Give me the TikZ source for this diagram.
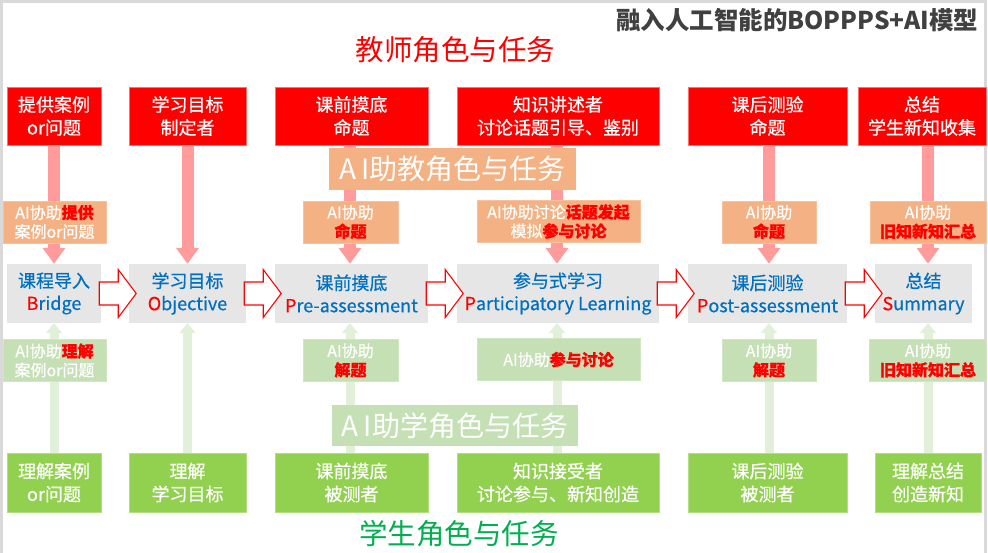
\documentclass[tikz,border=0pt]{standalone}
\usepackage{fontspec}
\setmainfont{Noto Sans CJK SC}
\newfontfamily\boxfont{Noto Sans CJK SC}[FakeBold=0.6]
\usetikzlibrary{arrows.meta,calc}
\definecolor{boxred}{HTML}{FF0000}
\definecolor{boxredline}{HTML}{FF6F6F}
\definecolor{pinkarrow}{HTML}{FF9B9B}
\definecolor{boxorange}{HTML}{F4B183}
\definecolor{boxgray}{HTML}{E7E6E6}
\definecolor{textblue}{HTML}{0070C0}
\definecolor{boxgreen}{HTML}{92D050}
\definecolor{boxlgreen}{HTML}{C5E0B4}
\definecolor{lgarrow}{HTML}{E2F0D9}
\definecolor{titlegreen}{HTML}{00B050}
\definecolor{titlegray}{HTML}{404040}
\definecolor{framegray}{HTML}{D9D9D9}
\newcommand\redhl[1]{{\color{boxred}\bfseries #1}}
\newcommand\redfirst[1]{{\color{boxred}#1}}
\begin{document}
\begin{tikzpicture}[x=1pt,y=-1pt,
  basebox/.style={rectangle, inner sep=0pt, align=center},
  redbox/.style={basebox, fill=boxred, draw=boxredline, line width=0.8pt, text=white, minimum height=58pt, font=\boxfont\fontsize{18}{23}\selectfont},
  graybox/.style={basebox, fill=boxgray, text=textblue, minimum height=59pt, font=\boxfont\fontsize{18}{22.5}\selectfont},
  greenbox/.style={basebox, fill=boxgreen, draw=boxgreen!70!white, line width=0.8pt, text=white, minimum height=59pt, font=\boxfont\fontsize{18}{23}\selectfont},
  orangebox/.style={basebox, fill=boxorange, draw=boxorange!80!white, line width=0.6pt, text=white, minimum height=42pt, font=\boxfont\fontsize{16}{19}\selectfont},
  lgbox/.style={basebox, fill=boxlgreen, draw=boxlgreen!80!white, line width=0.6pt, text=white, minimum height=42pt, font=\boxfont\fontsize{16}{19}\selectfont},
  rolebox/.style={basebox, text=white, minimum height=42pt, font=\fontsize{28}{32}\selectfont},
  pinkarr/.style={draw=pinkarrow, line width=12pt, -{Triangle[width=22pt,length=16pt]}},
  greenarr/.style={draw=lgarrow, line width=9pt, -{Triangle[width=16pt,length=10pt]}},
  hollow/.style={draw=boxred, line width=1.1pt, fill=white, line join=miter}
]
\useasboundingbox (0,0) rectangle (988,552);
\fill[white] (0,0) rectangle (988,552);
\draw[framegray, line width=3pt] (1.5,560) -- (1.5,1.5) -- (985.5,1.5) -- (985.5,560);

% title
\node[anchor=east, text=titlegray, font=\fontsize{24.5}{27}\selectfont\bfseries] (title) at (982,20) {融入人工智能的BOPPPS+AI模型};
\node[text=boxred, font=\fontsize{28.5}{32}\selectfont] (teacher) at (455.5,50) {教师角色与任务};
\node[text=titlegreen, font=\fontsize{28.5}{32}\selectfont] (student) at (459,534) {学生角色与任务};

% teacher boxes
\node[redbox, minimum width=94pt] (t1) at (54,116) {提供案例\\or问题};
\node[redbox, minimum width=117pt] (t2) at (187.5,116) {学习目标\\制定者};
\node[redbox, minimum width=153pt] (t3) at (351.5,116) {课前摸底\\命题};
\node[redbox, minimum width=202pt] (t4) at (558,116) {知识讲述者\\讨论话题引导、鉴别};
\node[redbox, minimum width=159pt] (t5) at (767.5,116) {课后测验\\命题};
\node[redbox, minimum width=128pt] (t6) at (922,116) {总结\\学生新知收集};

% stage boxes
\node[graybox, minimum width=94pt] (g1) at (54,293.5) {课程导入\\\redfirst{B}ridge};
\node[graybox, minimum width=117pt] (g2) at (187.5,293.5) {学习目标\\\redfirst{O}bjective};
\node[graybox, minimum width=153pt] (g3) at (351.5,293.5) {课前摸底\\\redfirst{P}re-assessment};
\node[graybox, minimum width=202pt] (g4) at (558,293.5) {参与式学习\\\redfirst{P}articipatory Learning};
\node[graybox, minimum width=159pt] (g5) at (767.5,293.5) {课后测验\\\redfirst{P}ost-assessment};
\node[graybox, minimum width=97pt] (g6) at (923.5,293.5) {总结\\\redfirst{S}ummary};

% student boxes
\node[greenbox, minimum width=94pt] (w1) at (54,482.5) {理解案例\\or问题};
\node[greenbox, minimum width=117pt] (w2) at (187.5,482.5) {理解\\学习目标};
\node[greenbox, minimum width=153pt] (w3) at (351.5,482.5) {课前摸底\\被测者};
\node[greenbox, minimum width=202pt] (w4) at (558,482.5) {知识接受者\\讨论参与、新知创造};
\node[greenbox, minimum width=159pt] (w5) at (767.5,482.5) {课后测验\\被测者};
\node[greenbox, minimum width=106pt] (w6) at (928,482.5) {理解总结\\创造新知};

% column axes for the vertical arrows
\coordinate (x1) at (54,0);
\coordinate (x2) at (187.5,0);
\coordinate (x3) at (350,0);
\coordinate (x4) at (557,0);
\coordinate (x5) at (769,0);
\coordinate (x6) at (928,0);

% vertical arrows
\foreach \i in {1,...,6}{
  \draw[pinkarr] (x\i |- t\i.south) -- (x\i |- g\i.north);
  \draw[greenarr] (x\i |- w\i.north) -- (x\i |- g\i.south);
}

% AI assistant boxes (teacher side)
\node[orangebox, minimum width=103pt] (o1) at (54.5,222) {AI协助\redhl{提供}\\案例or问题};
\node[orangebox, minimum width=95pt] (o3) at (350.5,222) {AI协助\\\redhl{命题}};
\node[orangebox, minimum width=163pt] (o4) at (558.5,221.5) {AI协助讨论\redhl{话题发起}\\模拟\redhl{参与讨论}};
\node[orangebox, minimum width=94pt] (o5) at (769,222) {AI协助\\\redhl{命题}};
\node[orangebox, minimum width=116pt] (o6) at (928,222) {AI协助\\\redhl{旧知新知汇总}};

% AI assistant boxes (student side)
\node[lgbox, minimum width=103pt] (l1) at (54.5,360.5) {AI协助\redhl{理解}\\案例or问题};
\node[lgbox, minimum width=95pt] (l3) at (350.5,360.5) {AI协助\\\redhl{解题}};
\node[lgbox, minimum width=163pt] (l4) at (558.5,359.5) {AI协助\redhl{参与讨论}};
\node[lgbox, minimum width=94pt] (l5) at (769,360.5) {AI协助\\\redhl{解题}};
\node[lgbox, minimum width=117pt] (l6) at (928,360.5) {AI协助\\\redhl{旧知新知汇总}};

% role labels
\node[rolebox, fill=boxorange, minimum width=247pt] (aiteach) at (452.5,169) {A\hspace{5pt}I助教角色与任务};
\node[rolebox, fill=boxlgreen, minimum width=246pt, minimum height=41pt] (ailearn) at (455,425.5) {A\hspace{5pt}I助学角色与任务};

% hollow flow arrows
\foreach \a/\b in {g1/g2,g2/g3,g3/g4,g4/g5,g5/g6}{
  \draw[hollow] ($(\a.east)+(-2,0)$) ++(0,-11.5) -- ++(19,0) -- ++(0,-12.5) -- ++(18,24) -- ++(-18,24) -- ++(0,-12.5) -- ++(-19,0) -- cycle;
}
\end{tikzpicture}
\end{document}
